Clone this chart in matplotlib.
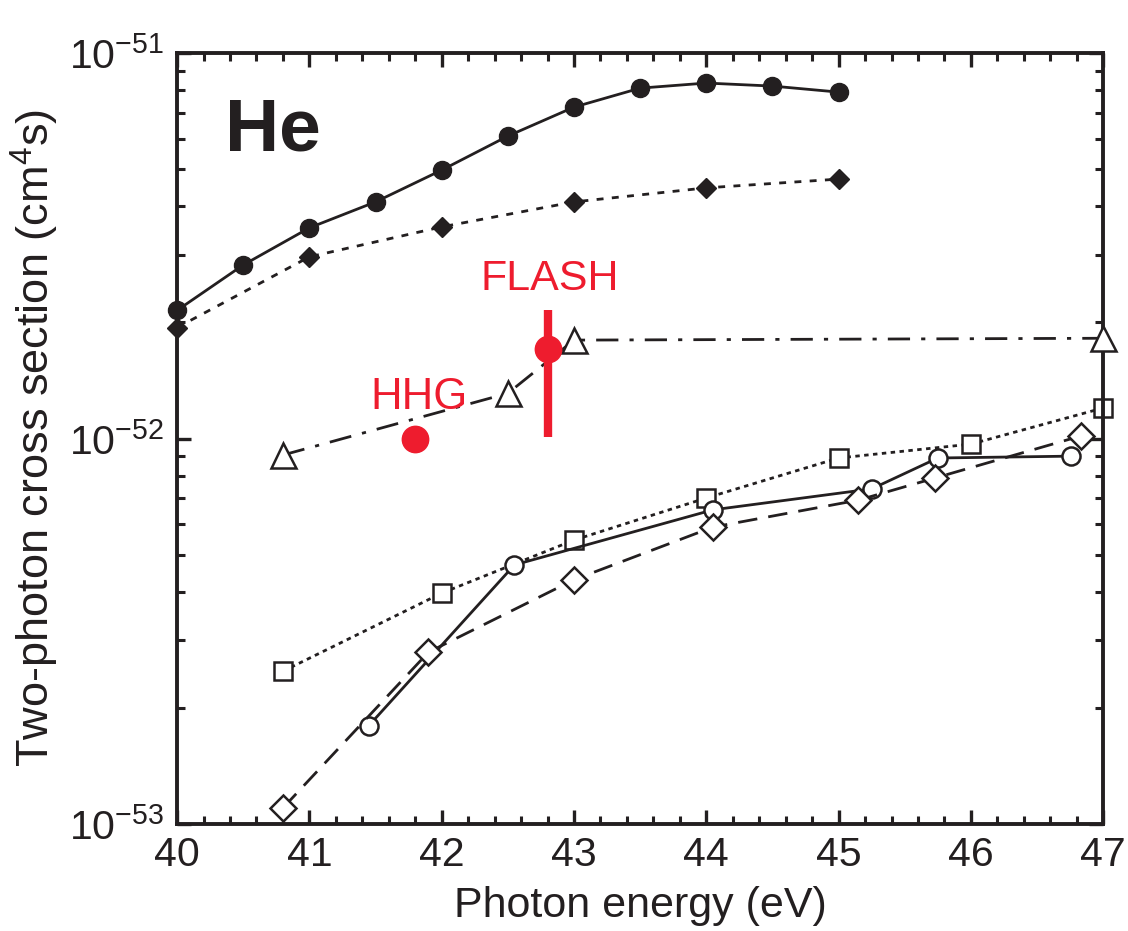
import matplotlib
matplotlib.use("Agg")
import matplotlib.pyplot as plt
from matplotlib.ticker import LogLocator, MultipleLocator, NullFormatter

plt.rcParams['font.family'] = ['Liberation Sans', 'DejaVu Sans']
plt.rcParams['mathtext.fontset'] = 'custom'
plt.rcParams['mathtext.rm'] = 'Liberation Sans'
plt.rcParams['mathtext.it'] = 'Liberation Sans:italic'

# filled circles (solid line)
e_fc = [40.0, 40.5, 41.0, 41.5, 42.0, 42.5, 43.0, 43.5, 44.0, 44.5, 45.0]
s_fc = [2.15e-52, 2.82e-52, 3.52e-52, 4.11e-52, 4.97e-52, 6.09e-52, 7.24e-52,
        8.11e-52, 8.36e-52, 8.21e-52, 7.92e-52]

# filled diamonds (dotted line)
e_fd = [40.0, 41.0, 42.0, 43.0, 44.0, 45.0]
s_fd = [1.94e-52, 2.96e-52, 3.54e-52, 4.11e-52, 4.47e-52, 4.71e-52]

# open triangles (dash-dot line)
e_tri = [40.8, 42.5, 43.0, 47.0]
s_tri = [9.06e-53, 1.31e-52, 1.80e-52, 1.82e-52]

# open squares (dotted line)
e_sq = [40.8, 42.0, 43.0, 44.0, 45.0, 46.0, 47.0]
s_sq = [2.49e-53, 3.97e-53, 5.45e-53, 7.01e-53, 8.90e-53, 9.67e-53, 1.20e-52]

# open circles (solid line)
e_oc = [41.45, 42.55, 44.05, 45.25, 45.75, 46.76]
s_oc = [1.80e-53, 4.70e-53, 6.53e-53, 7.40e-53, 8.90e-53, 9.0e-53]

# open diamonds (dashed line)
e_od = [40.8, 41.9, 43.0, 44.05, 45.15, 45.73, 46.83]
s_od = [1.10e-53, 2.79e-53, 4.30e-53, 5.89e-53, 6.92e-53, 7.90e-53, 1.015e-52]

# experiments
e_hhg, s_hhg = 41.8, 1.0e-52
e_flash, s_flash = 42.8, 1.71e-52
flash_lo, flash_hi = 1.01e-52, 2.15e-52

y_ticks = [1e-53, 1e-52, 1e-51]
y_labels = [r'$\mathregular{10^{-53}}$', r'$\mathregular{10^{-52}}$', r'$\mathregular{10^{-51}}$']

red = '#EE1C2E'
k = '#231F20'

fig = plt.figure(figsize=(11.28, 9.31), dpi=100)
ax = fig.add_axes([0.157, 0.115, 0.821, 0.828])

lw = 2.0
ax.plot(e_fc, s_fc, '-', color=k, lw=lw, marker='o', ms=13, mfc=k, mec=k, clip_on=False)
ax.plot(e_fd, s_fd, color=k, lw=lw, ls=(0, (2.5, 3)), marker='D', ms=10, mfc=k, mec=k,
        clip_on=False)
ax.plot(e_tri, s_tri, color=k, lw=lw, ls=(0, (8, 4, 1.5, 4)), marker='^', ms=18,
        mfc='white', mec=k, mew=1.8, zorder=3, clip_on=False)
ax.plot(e_sq, s_sq, color=k, lw=lw, ls=(0, (1.6, 1.6)), marker='s', ms=13,
        mfc='white', mec=k, mew=1.8, clip_on=False)
ax.plot(e_oc, s_oc, '-', color=k, lw=lw, marker='o', ms=13,
        mfc='white', mec=k, mew=1.8, clip_on=False)
ax.plot(e_od, s_od, color=k, lw=lw, ls=(0, (7, 4)), marker='D', ms=13,
        mfc='white', mec=k, mew=1.8, clip_on=False)

ax.plot([e_flash, e_flash], [flash_lo, flash_hi], color=red, lw=6, solid_capstyle='butt', zorder=4)
ax.plot([e_flash], [s_flash], 'o', color=red, ms=19, zorder=5)
ax.plot([e_hhg], [s_hhg], 'o', color=red, ms=19, zorder=5)

ax.text(42.29, 2.43e-52, 'FLASH', color=red, fontsize=31, va='baseline', ha='left')
ax.text(41.46, 1.19e-52, 'HHG', color=red, fontsize=31.5, va='baseline', ha='left')
ax.text(0.052, 0.874, 'He', transform=ax.transAxes, fontsize=54, fontweight='bold',
        color=k, va='baseline', ha='left')

ax.set_yscale('log')
ax.set_xlim(40, 47)
ax.set_ylim(1e-53, 1e-51)
ax.set_xticks(range(40, 48))
ax.xaxis.set_minor_locator(MultipleLocator(0.2))
ax.set_yticks(y_ticks)
ax.set_yticklabels(y_labels)
ax.yaxis.set_minor_locator(LogLocator(base=10, subs=range(2, 10), numticks=20))
ax.yaxis.set_minor_formatter(NullFormatter())

ax.tick_params(which='both', direction='in', top=True, right=True, color=k, labelsize=29.5,
               labelcolor=k)
ax.tick_params(which='major', length=10, width=2.4, pad=9)
ax.tick_params(which='minor', length=6, width=2.2)
for sp in ax.spines.values():
    sp.set_linewidth(2.8)
    sp.set_color(k)

ax.set_xlabel('Photon energy (eV)', fontsize=31, color=k, labelpad=8)
ax.set_ylabel('Two-photon cross section (cm$^4$s)', fontsize=32.5, color=k, labelpad=6)

fig.savefig('out.png', dpi=100)
